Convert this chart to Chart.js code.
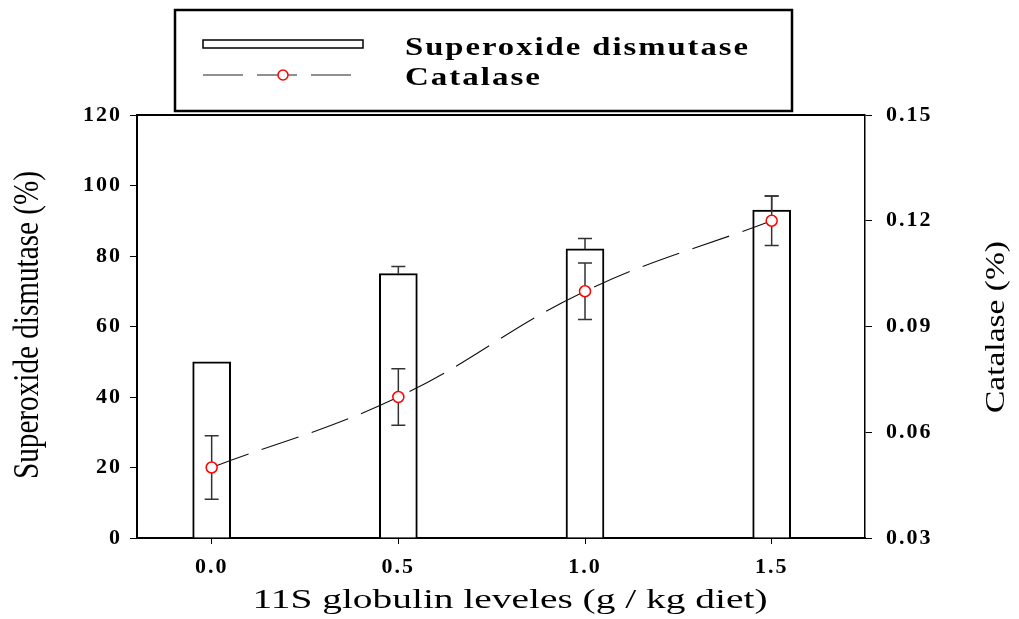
<!DOCTYPE html>
<html>
<head>
<meta charset="utf-8">
<script src="https://cdn.jsdelivr.net/npm/chart.js@4.4.0/dist/chart.umd.min.js"></script>
<style>
html, body { margin: 0; padding: 0; background: #fff; }
</style>
</head>
<body>
<canvas id="chart1" width="1019" height="619"></canvas>
<script>
// DATA
const levels = [0.0, 0.5, 1.0, 1.5];
const sod = [50, 75, 82, 93];
const sodErr = [0, 2, 3, 4];
const catalase = [0.05, 0.07, 0.10, 0.12];
const catalaseErr = [0.009, 0.008, 0.008, 0.007];
const xTicks = [0.0, 0.5, 1.0, 1.5];
const sodTicks = [0, 20, 40, 60, 80, 100, 120];
const catTicks = [0.03, 0.06, 0.09, 0.12, 0.15];

const tickFont = { family: '"Liberation Serif"', size: 22, weight: 'bold' };

// text squeezed/stretched to a given length
function fitText(ctx, text, font, cx, cy, rot, len, thick) {
    ctx.save();
    ctx.letterSpacing = '0px';
    ctx.font = font;
    let w = ctx.measureText(text).width;
    ctx.translate(cx, cy);
    ctx.rotate(rot);
    ctx.scale(len / w, thick);
    ctx.fillStyle = '#000';
    ctx.textAlign = 'center';
    ctx.textBaseline = 'middle';
    ctx.fillText(text, 0, 0);
    ctx.restore();
}

function fitLeft(ctx, text, x, y, len) {
    ctx.save();
    ctx.font = 'bold 25px "Liberation Serif"';
    ctx.letterSpacing = '1.5px';
    let w = ctx.measureText(text).width - 1.5;
    ctx.translate(x, y);
    ctx.scale(len / w, 1);
    ctx.fillStyle = '#000';
    ctx.textAlign = 'left';
    ctx.fillText(text, 0, 0);
    ctx.restore();
}

function errBar(ctx, x, yA, yB, capA) {
    ctx.beginPath();
    ctx.moveTo(x, yA);
    ctx.lineTo(x, yB);
    ctx.moveTo(x - 7, yB);
    ctx.lineTo(x + 7, yB);
    if (capA) {
        ctx.moveTo(x - 7, yA);
        ctx.lineTo(x + 7, yA);
    }
    ctx.stroke();
}

const extras = {
    id: 'extras',
    beforeDraw(chart) {
        chart.ctx.letterSpacing = '2px';
    },
    afterDatasetDraw(chart, args) {
        if (args.index !== 0) return;
        const ctx = chart.ctx;
        const xs = chart.scales.x, ys = chart.scales.y, y1 = chart.scales.y1;
        ctx.save();
        ctx.strokeStyle = '#333';
        ctx.lineWidth = 1.5;
        levels.forEach((lv, i) => {
            let px = xs.getPixelForValue(lv);
            if (sodErr[i] > 0) {
                errBar(ctx, px, ys.getPixelForValue(sod[i]), ys.getPixelForValue(sod[i] + sodErr[i]), false);
            }
            errBar(ctx, px, y1.getPixelForValue(catalase[i] - catalaseErr[i]), y1.getPixelForValue(catalase[i] + catalaseErr[i]), true);
        });
        ctx.restore();
    },
    afterDraw(chart) {
        const ctx = chart.ctx;
        const a = chart.chartArea;
        ctx.save();
        ctx.letterSpacing = '0px';
        // top of frame
        ctx.strokeStyle = '#000';
        ctx.lineWidth = 2;
        ctx.beginPath();
        ctx.moveTo(a.left - 1, a.top);
        ctx.lineTo(a.right, a.top);
        ctx.stroke();

        // axis titles
        fitText(ctx, 'Superoxide dismutase (%)', '28px "Liberation Serif"', 28, 325, -Math.PI / 2, 308, 1.3);
        fitText(ctx, 'Catalase (%)', '24px "Liberation Serif"', 997, 327, -Math.PI / 2, 172, 1.1);
        fitText(ctx, '11S globulin leveles (g / kg diet)', '28px "Liberation Serif"', 510, 601, 0, 515, 1.0);

        // legend
        ctx.lineWidth = 2.5;
        ctx.strokeRect(175, 10, 617, 101);
        ctx.lineWidth = 1.5;
        ctx.fillStyle = '#fff';
        ctx.fillRect(203, 40, 160, 8);
        ctx.strokeRect(203, 40, 160, 8);
        ctx.strokeStyle = '#222';
        ctx.lineWidth = 1.2;
        ctx.setLineDash([40, 14]);
        ctx.beginPath();
        ctx.moveTo(203, 75);
        ctx.lineTo(352, 75);
        ctx.stroke();
        ctx.setLineDash([]);
        ctx.beginPath();
        ctx.arc(283, 75, 5, 0, Math.PI * 2);
        ctx.fillStyle = '#fff';
        ctx.fill();
        ctx.strokeStyle = '#ff0000';
        ctx.lineWidth = 1.5;
        ctx.stroke();
        ctx.textBaseline = 'alphabetic';
        fitLeft(ctx, 'Superoxide dismutase', 405, 55, 343);
        fitLeft(ctx, 'Catalase', 405, 85, 135);
        ctx.restore();
    }
};

let ctx1 = document.getElementById('chart1').getContext('2d');
let myChart = new Chart(ctx1, {
    type: 'bar',
    data: {
        datasets: [
            {
                type: 'bar',
                label: 'Superoxide dismutase',
                data: levels.map((x, i) => ({ x: x, y: sod[i] })),
                yAxisID: 'y',
                backgroundColor: '#fff',
                borderColor: '#000',
                borderWidth: 2,
                barThickness: 38,
                order: 2
            },
            {
                type: 'line',
                label: 'Catalase',
                data: levels.map((x, i) => ({ x: x, y: catalase[i] })),
                yAxisID: 'y1',
                borderColor: '#111',
                borderWidth: 1.1,
                borderDash: [39, 14],
                tension: 0.4,
                fill: false,
                pointRadius: 5.5,
                pointBackgroundColor: '#fff',
                pointBorderColor: '#ff0000',
                pointBorderWidth: 1.5,
                order: 1
            }
        ]
    },
    options: {
        responsive: false,
        devicePixelRatio: 1,
        animation: false,
        layout: { padding: { top: 115, left: 0, right: 0, bottom: 0 } },
        plugins: { legend: { display: false }, tooltip: { enabled: false } },
        scales: {
            x: {
                type: 'linear',
                position: 'bottom',
                min: -0.2,
                max: 1.75,
                offset: false,
                afterBuildTicks: s => { s.ticks = xTicks.map(v => ({ value: v })); },
                afterFit: s => { s.height = 81; },
                ticks: { callback: v => v.toFixed(1), font: tickFont, color: '#000', padding: 10, autoSkip: false, maxRotation: 0 },
                grid: { drawOnChartArea: false, drawTicks: true, tickLength: 6, tickColor: '#000', offset: false },
                border: { display: true, color: '#000', width: 2 }
            },
            y: {
                position: 'left',
                min: 0,
                max: 120,
                afterBuildTicks: s => { s.ticks = sodTicks.map(v => ({ value: v })); },
                afterFit: s => { s.width = 137; },
                ticks: { callback: v => String(v), font: tickFont, color: '#000', padding: 8 },
                grid: { drawOnChartArea: false, drawTicks: true, tickLength: 7, tickColor: '#000' },
                border: { display: true, color: '#000', width: 2 }
            },
            y1: {
                position: 'right',
                min: 0.03,
                max: 0.15,
                afterBuildTicks: s => { s.ticks = catTicks.map(v => ({ value: v })); },
                afterFit: s => { s.width = 154; },
                ticks: { callback: v => v.toFixed(2), font: tickFont, color: '#000', padding: 14 },
                grid: { drawOnChartArea: false, drawTicks: true, tickLength: 7, tickColor: '#000' },
                border: { display: true, color: '#000', width: 1.5 }
            }
        }
    },
    plugins: [extras]
});
</script>
</body>
</html>
